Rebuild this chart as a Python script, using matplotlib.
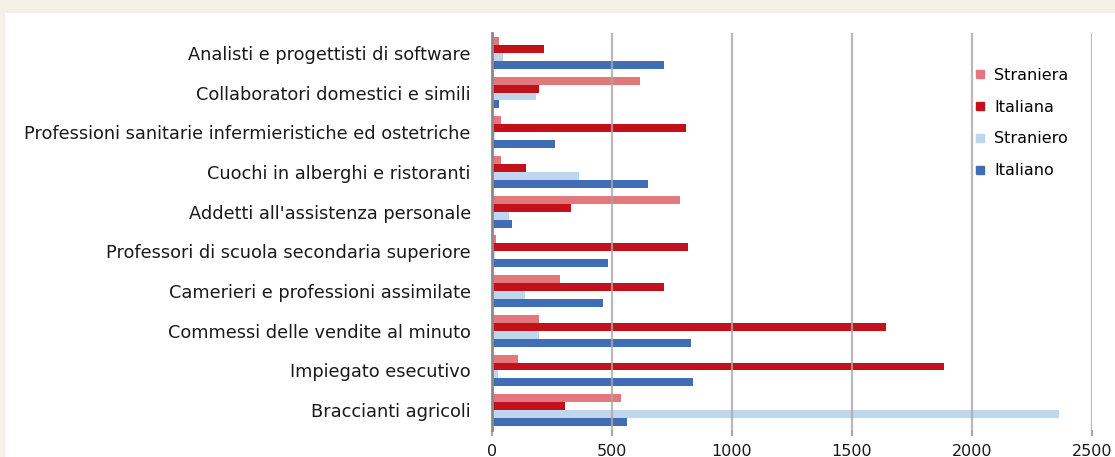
import matplotlib.pyplot as plt
from matplotlib.lines import Line2D
from matplotlib.patches import Rectangle
import numpy as np

# ---------- DATA ----------
categories = [
    "Analisti e progettisti di software",
    "Collaboratori domestici e simili",
    "Professioni sanitarie infermieristiche ed ostetriche",
    "Cuochi in alberghi e ristoranti",
    "Addetti all'assistenza personale",
    "Professori di scuola secondaria superiore",
    "Camerieri e professioni assimilate",
    "Commessi delle vendite al minuto",
    "Impiegato esecutivo",
    "Braccianti agricoli",
]
straniera = [29, 618, 40, 40, 785, 18, 285, 196, 108, 540]
italiana = [217, 197, 810, 142, 329, 818, 719, 1642, 1886, 307]
straniero = [49, 185, 15, 364, 72, 15, 140, 196, 28, 2364]
italiano = [719, 30, 262, 651, 86, 486, 464, 830, 840, 562]

series = ["Straniera", "Italiana", "Straniero", "Italiano"]
values = [straniera, italiana, straniero, italiano]
colors = ["#e2787b", "#c3111c", "#bed6ee", "#3f6db6"]
x_ticks = [0, 500, 1000, 1500, 2000, 2500]

# ---------- FIGURE ----------
fig = plt.figure(figsize=(11.15, 4.57), dpi=100)
fig.patch.set_facecolor("#f5f1e6")
fig.patches.append(Rectangle((5 / 1115, 0), 1, 1 - 13 / 457, transform=fig.transFigure,
                             facecolor="white", edgecolor="none", zorder=-10))

ax = fig.add_axes([491.7 / 1115, 27 / 457, 600 / 1115, 397 / 457])
ax.set_facecolor("none")

y = np.arange(len(categories))
h = 0.2
offsets = [-0.3, -0.1, 0.1, 0.3]
for vals, off, col, name in zip(values, offsets, colors, series):
    ax.barh(y + off, vals, height=h, color=col, label=name, zorder=2)

ax.set_ylim(len(categories) - 0.5, -0.5)
ax.set_xlim(0, 2500)
ax.set_xticks(x_ticks)
ax.set_xticklabels([str(t) for t in x_ticks])
ax.set_yticks(y)
ax.set_yticklabels(categories)

ax.grid(axis="x", color="#a8a8a8", linewidth=1.6, alpha=0.8, zorder=3)
ax.set_axisbelow(False)
for s in ["top", "right", "bottom"]:
    ax.spines[s].set_visible(False)
ax.spines["left"].set_color("#8a8a8a")
ax.spines["left"].set_linewidth(2)
ax.spines["left"].set_zorder(4)

ax.tick_params(axis="y", length=0, pad=15, labelsize=12.8, labelcolor="#1a1a1a")
ax.tick_params(axis="x", length=4, width=1.6, color="#a8a8a8", pad=6, labelsize=11.5,
               labelcolor="#1a1a1a")

handles = [Line2D([], [], marker="s", linestyle="none", markersize=6,
                  markerfacecolor=c, markeredgecolor=c) for c in colors]
fig.legend(handles, series, loc="center left", bbox_to_anchor=(974 / 1115, 1 - 123 / 457),
           frameon=False, fontsize=11.5, labelspacing=1.05, handletextpad=0.45,
           handlelength=0.8, borderpad=0, borderaxespad=0)

fig.savefig("out.png", dpi=100, facecolor=fig.get_facecolor())
